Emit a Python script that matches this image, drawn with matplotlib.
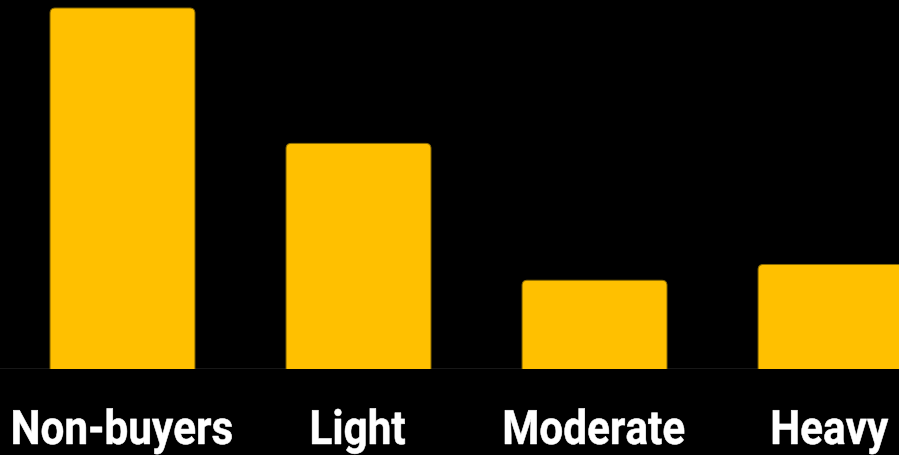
import matplotlib.pyplot as plt
from matplotlib.patches import FancyBboxPatch, PathPatch
from matplotlib.textpath import TextPath
from matplotlib.font_manager import FontProperties
from matplotlib.transforms import Affine2D, IdentityTransform

segments = ['Non-buyers', 'Light', 'Moderate', 'Heavy']
values = [48, 30, 11.8, 13.9]

BAR_COLOR = '#FFC000'
EDGE_COLOR = '#8a6a00'
BAR_WIDTH = 0.614
DPI = 100

fig = plt.figure(figsize=(8.99, 4.56), dpi=DPI, facecolor='black')
ax = fig.add_axes([0, 0.1886, 1, 0.8114], facecolor='black')
ax.set_xlim(-0.519, 3.290)
ax.set_ylim(0, 49.2)

# bars with rounded tops; the bottom sticks below zero and gets clipped by the axes
for i, v in enumerate(values):
    box = FancyBboxPatch((i - BAR_WIDTH / 2, -2), BAR_WIDTH, v + 2,
                         boxstyle='round,pad=0,rounding_size=0.022',
                         mutation_aspect=31.0,
                         facecolor=BAR_COLOR, edgecolor=EDGE_COLOR, linewidth=0.7)
    ax.add_patch(box)

ax.axhline(0, color='#1c1c1c', linewidth=1.2, zorder=0)
ax.set_xticks([])
ax.set_yticks([])
for s in ax.spines.values():
    s.set_visible(False)

# condensed bold category labels: text paths squeezed horizontally
fp = FontProperties(family='Roboto', weight='bold')
size_px = 47.5
squeeze = 0.89
baseline_px = 11
for i, name in enumerate(segments):
    tp = TextPath((0, 0), name, size=size_px, prop=fp)
    ext = tp.get_extents()
    cx = ax.transData.transform((i, 0))[0]
    w = ext.width * squeeze
    tr = Affine2D().translate(-ext.x0, 0).scale(squeeze, 1).translate(cx - w / 2, baseline_px)
    fig.add_artist(PathPatch(tp, transform=tr + IdentityTransform(),
                             facecolor='white', edgecolor='white', linewidth=0.4))

fig.savefig('out.png', dpi=DPI, facecolor='black')
